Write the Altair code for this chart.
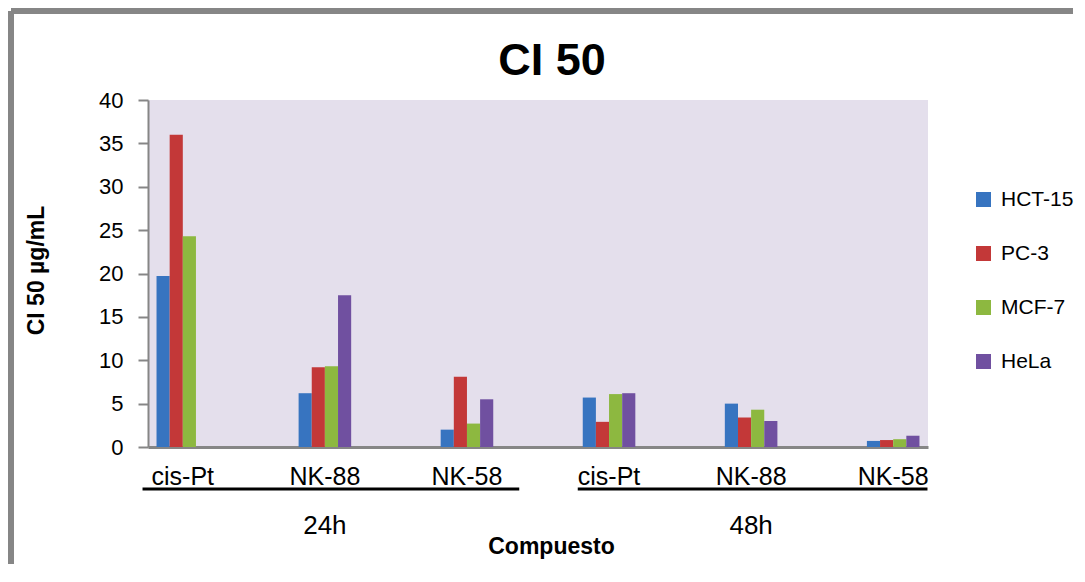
import altair as alt
import pandas as pd

# ---- data ----
title_text = "CI 50"
y_title = "CI 50 µg/mL"
x_title = "Compuesto"
times = ["24h", "48h"]
compounds = ["cis-Pt", "NK-88", "NK-58"]
series = ["HCT-15", "PC-3", "MCF-7", "HeLa"]
colors = ["#3774C0", "#C33838", "#8DB840", "#7050A0"]
# order: 24h cis-Pt, NK-88, NK-58, 48h cis-Pt, NK-88, NK-58
hct15 = [19.7, 6.2, 2.0, 5.7, 5.0, 0.7]
pc3 = [36.0, 9.2, 8.1, 2.9, 3.4, 0.8]
mcf7 = [24.3, 9.3, 2.7, 6.1, 4.3, 0.9]
hela = [None, 17.5, 5.5, 6.2, 3.0, 1.3]
y_ticks = [0, 5, 10, 15, 20, 25, 30, 35, 40]

FONT = "Liberation Sans, Arial, sans-serif"
GRAY = "#868686"

cats = [f"{t}|{c}" for t in times for c in compounds]
rows = []
for s, vals in zip(series, [hct15, pc3, mcf7, hela]):
    for cat, v in zip(cats, vals):
        if v is not None:
            rows.append({"cat": cat, "serie": s, "valor": v})
df = pd.DataFrame(rows)

groups = pd.DataFrame({
    "t": times,
    "ini": [f"{t}|{compounds[0]}" for t in times],
    "mid": [f"{t}|{compounds[1]}" for t in times],
    "fin": [f"{t}|{compounds[-1]}" for t in times],
})

W, H = 780, 347
x_scale = alt.Scale(domain=cats, paddingInner=0.63, paddingOuter=0.06)
x_axis = alt.Axis(title=x_title, labelExpr="split(datum.label, '|')[1]",
                  labelAngle=0, labelFont=FONT, labelFontSize=25, labelColor="black",
                  ticks=False, tickSize=0, labelPadding=17,
                  domainColor=GRAY, domainWidth=3,
                  titleFont=FONT, titleFontSize=23, titleFontWeight="bold",
                  titleColor="black", titleX=403, titleY=106,
                  titleBaseline="alphabetic", titleAlign="center")

bars = alt.Chart(df).mark_bar().encode(
    x=alt.X("cat:N", scale=x_scale, sort=cats, axis=x_axis),
    xOffset=alt.XOffset("serie:N", sort=series,
                        scale=alt.Scale(domain=series, paddingInner=0, paddingOuter=0)),
    y=alt.Y("valor:Q", scale=alt.Scale(domain=[0, 40], nice=False),
            axis=alt.Axis(title=y_title, values=y_ticks, grid=False,
                          labelFont=FONT, labelFontSize=22, labelColor="black",
                          tickSize=10, tickColor=GRAY, tickWidth=2, labelPadding=15,
                          domainColor=GRAY, domainWidth=2,
                          titleFont=FONT, titleFontSize=23, titleFontWeight="bold",
                          titleColor="black", titleAngle=-90, titleX=-112, titleY=170,
                          titleBaseline="middle", titleAlign="center")),
    color=alt.Color("serie:N", sort=series, scale=alt.Scale(domain=series, range=colors),
                    legend=alt.Legend(title=None, orient="none", legendX=825, legendY=89,
                                      symbolType="square", symbolSize=225, symbolStrokeWidth=0,
                                      labelFont=FONT, labelFontSize=21, labelColor="black",
                                      rowPadding=32, labelOffset=7, padding=0)),
)

under24 = alt.Chart(groups).transform_filter("datum.t == '24h'").mark_rule(
    color="black", strokeWidth=3, xOffset=-14, x2Offset=26).encode(
    x=alt.X("ini:N", scale=x_scale, bandPosition=0, axis=x_axis),
    x2=alt.X2("fin:N", bandPosition=1),
    y=alt.value(389),
)
under48 = alt.Chart(groups).transform_filter("datum.t == '48h'").mark_rule(
    color="black", strokeWidth=3, xOffset=-5, x2Offset=8).encode(
    x=alt.X("ini:N", scale=x_scale, bandPosition=0, axis=x_axis),
    x2=alt.X2("fin:N", bandPosition=1),
    y=alt.value(389),
)
time_labels = alt.Chart(groups).mark_text(
    font=FONT, fontSize=26, color="black", baseline="alphabetic", align="center").encode(
    x=alt.X("mid:N", scale=x_scale, axis=x_axis),
    y=alt.value(434),
    text="t:N",
)

tdf = pd.DataFrame({"t": [title_text]})
title = alt.Chart(tdf).mark_text(
    font=FONT, fontSize=45, fontWeight="bold", color="black",
    baseline="alphabetic", align="center").encode(
    x=alt.value(404), y=alt.value(-25), text="t:N")

frame_left = alt.Chart(tdf).mark_rule(color=GRAY, strokeWidth=6).encode(
    x=alt.value(-137), y=alt.value(-89), y2=alt.value(464))
frame_top = alt.Chart(tdf).mark_rule(color=GRAY, strokeWidth=6).encode(
    x=alt.value(-137), x2=alt.value(925), y=alt.value(-89))

chart = alt.layer(bars, under24, under48, time_labels, title, frame_left, frame_top).properties(
    width=W, height=H, padding=0, background="white"
).configure_view(fill="#E4DFEC", strokeWidth=0)

chart.save("out.html", embed_options={"renderer": "svg", "actions": False})
